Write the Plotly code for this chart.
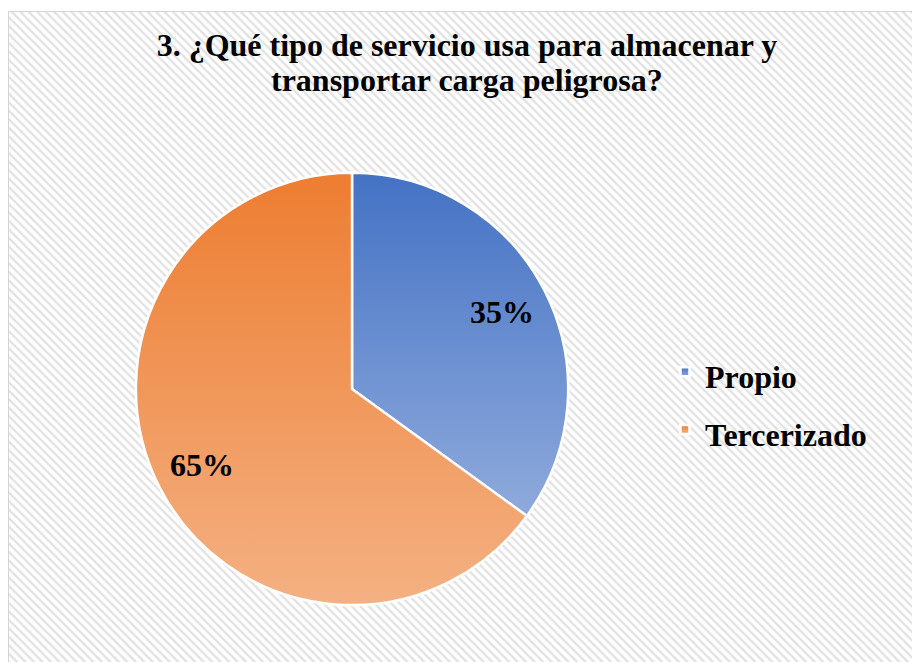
import math
import plotly.graph_objects as go

# survey answers
labels = ["Propio", "Tercerizado"]
values = [35, 65]
title_lines = ["3. ¿Qué tipo de servicio usa para almacenar y",
               "transportar carga peligrosa?"]

# top / bottom gradient colours of each slice
grad_top = ["#4472C4", "#ED7D31"]
grad_bottom = ["#8FAADC", "#F4B183"]
mid_colors = ["#6A8ED0", "#F19A5A"]

W, H = 912, 662
serif = "Liberation Serif, Times New Roman, serif"

# pie placement (paper coords)
dom_x = [0.149, 0.623]
dom_y = [0.086, 0.739]
radius_px = (dom_x[1] - dom_x[0]) * W / 2
cx = sum(dom_x) / 2
cy = sum(dom_y) / 2

fig = go.Figure()

# hatched chart-area background
fig.add_trace(go.Scatter(
    x=[8.5, W + 2, W + 2, 8.5, 8.5],
    y=[11.5, 11.5, H + 2, H + 2, 11.5],
    mode="lines", fill="toself",
    line=dict(color="#d4d4d4", width=1),
    fillpattern=dict(shape="\\", size=6, solidity=0.38,
                     fgcolor="#e2e2e2", bgcolor="white", fillmode="replace"),
    fillcolor="white",
    hoverinfo="skip", showlegend=False,
))

# legend text is wrapped so the legend rows get Excel-like spacing
legend_labels = ["<span style='font-size:32px'>%s</span>" % l for l in labels]

fig.add_trace(go.Pie(
    labels=legend_labels,
    values=values,
    sort=False,
    direction="clockwise",
    rotation=0,
    marker=dict(colors=mid_colors, line=dict(color="white", width=2.5)),
    textinfo="none",
    domain=dict(x=dom_x, y=dom_y),
    hoverinfo="skip",
))

# percentage labels at ~78% of the radius on each slice bisector
total = sum(values)
start = 0.0
for v in values:
    mid = (start + v / 2) / total * 2 * math.pi
    start += v
    fig.add_annotation(
        x=cx + 0.78 * radius_px * math.sin(mid) / W,
        y=cy + 0.78 * radius_px * math.cos(mid) / H,
        xref="paper", yref="paper",
        xanchor="center", yanchor="middle",
        text="<b>%d%%</b>" % round(v / total * 100),
        showarrow=False,
        font=dict(family=serif, size=32, color="black"),
    )

fig.add_annotation(
    x=467 / W, y=1 - 80 / H, xref="paper", yref="paper",
    xanchor="center", yanchor="middle",
    text="<b>%s</b>" % title_lines[1],
    showarrow=False,
    font=dict(family=serif, size=32, color="black"),
)

fig.update_layout(
    width=W, height=H,
    margin=dict(l=0, r=0, t=0, b=0),
    paper_bgcolor="white",
    plot_bgcolor="rgba(0,0,0,0)",
    xaxis=dict(range=[0, W], visible=False, fixedrange=True),
    yaxis=dict(range=[H, 0], visible=False, fixedrange=True),
    title=dict(
        text="<b>%s</b>" % title_lines[0],
        x=467 / W, xanchor="center",
        y=1 - 45 / H, yanchor="middle",
        font=dict(family=serif, size=32, color="black"),
    ),
    legend=dict(
        x=665 / W, xanchor="left",
        y=1 - 401 / H, yanchor="middle",
        font=dict(family=serif, size=42, color="black", weight="bold"),
        bgcolor="rgba(0,0,0,0)",
        itemwidth=30,
    ),
    showlegend=True,
)

grad_js = """
document.body.style.margin = '0';
var gd = document.getElementById('{plot_id}');
var ns = 'http://www.w3.org/2000/svg';
var svg = gd.querySelector('.main-svg');
var defs = svg.querySelector('defs');
var tops = %s, bots = %s;
for (var i = 0; i < tops.length; i++) {
  var lg = document.createElementNS(ns, 'linearGradient');
  lg.setAttribute('id', 'slicegrad' + i);
  lg.setAttribute('x1', '0'); lg.setAttribute('y1', '0');
  lg.setAttribute('x2', '0'); lg.setAttribute('y2', '1');
  var s1 = document.createElementNS(ns, 'stop');
  s1.setAttribute('offset', '0'); s1.setAttribute('stop-color', tops[i]);
  var s2 = document.createElementNS(ns, 'stop');
  s2.setAttribute('offset', '1'); s2.setAttribute('stop-color', bots[i]);
  lg.appendChild(s1); lg.appendChild(s2);
  defs.appendChild(lg);
}
gd.querySelectorAll('.pielayer .slice path.surface').forEach(function (p, i) {
  p.style.fill = 'url(#slicegrad' + i + ')';
});
gd.querySelectorAll('.legend .traces .legendpoints path').forEach(function (p, i) {
  p.style.fill = 'url(#slicegrad' + i + ')';
  p.setAttribute('d', 'M4.5,4.5H-4.5V-4.5H4.5Z');
});
""" % (str(grad_top).replace("'", '"'), str(grad_bottom).replace("'", '"'))

fig.write_html("out.html", post_script=grad_js,
               config={"displayModeBar": False})
